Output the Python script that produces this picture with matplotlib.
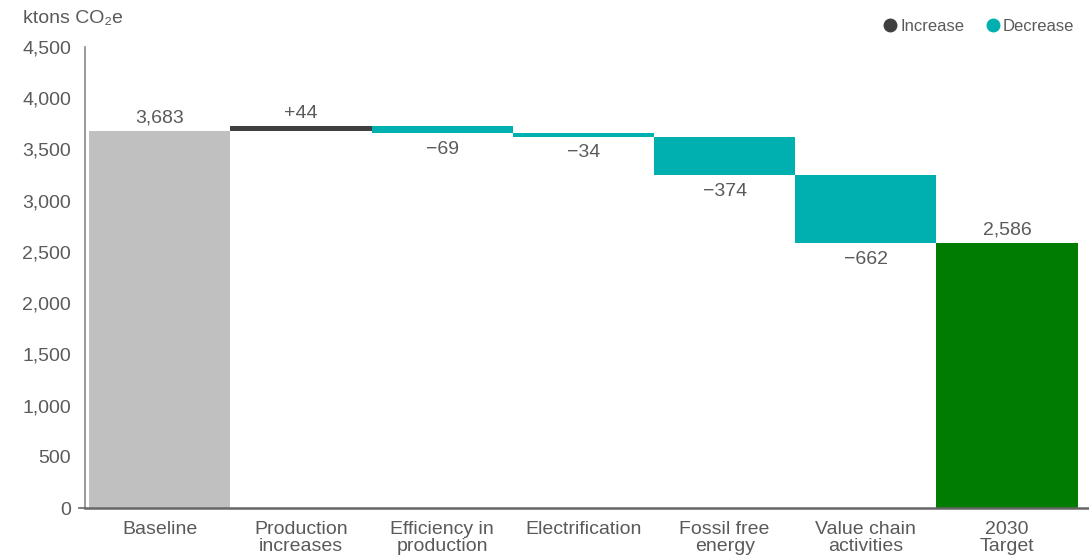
import numpy as np
import matplotlib.pyplot as plt
from matplotlib.lines import Line2D

# data
categories = ["Baseline", "Production\nincreases", "Efficiency in\nproduction",
              "Electrification", "Fossil free\nenergy", "Value chain\nactivities",
              "2030\nTarget"]
baseline = 3683
changes = [44, -69, -34, -374, -662]
target = 2586

# colours
c_base = "#c0c0c0"
c_inc = "#404040"
c_dec = "#00b0b0"
c_target = "#007d00"
c_text = "#5a5a5a"

plt.rcParams['font.family'] = ['Liberation Sans', 'DejaVu Sans']
fs = 14

fig = plt.figure(figsize=(10.89, 5.59), dpi=100)
ax = fig.add_axes([0.078, 0.0912, 0.922, 0.8248])

x = np.arange(len(categories))

# baseline bar
ax.bar(x[0], baseline, width=1.0, color=c_base, linewidth=0)
ax.text(x[0], baseline + 45, f"{baseline:,}", ha="center", va="bottom",
        fontsize=fs, color=c_text)

# floating change bars
level = baseline
for i, d in enumerate(changes):
    xi = x[i + 1]
    if d >= 0:
        ax.bar(xi, d, bottom=level, width=1.0, color=c_inc, linewidth=0)
        ax.text(xi, level + d + 45, f"+{d}", ha="center", va="bottom",
                fontsize=fs, color=c_text)
    else:
        ax.bar(xi, d, bottom=level, width=1.0, color=c_dec, linewidth=0)
        ax.text(xi, level + d - 75, f"\u2212{abs(d)}", ha="center", va="top",
                fontsize=fs, color=c_text)
    level += d

# target bar
ax.bar(x[-1], target, width=1.0, color=c_target, linewidth=0)
ax.text(x[-1], target + 45, f"{target:,}", ha="center", va="bottom",
        fontsize=fs, color=c_text)

ax.set_xlim(-0.53, 6.58)
ax.set_ylim(0, 4500)
ax.set_yticks(np.arange(0, 4501, 500))
ax.yaxis.set_major_formatter(plt.FuncFormatter(lambda v, p: f"{int(v):,}"))
ax.set_xticks(x)
ax.set_xticklabels(categories, fontsize=fs, color=c_text, linespacing=1.05)
ax.tick_params(axis="y", length=0, pad=10, labelsize=fs, labelcolor=c_text)
ax.tick_params(axis="x", length=0, pad=9)

for s in ["top", "right"]:
    ax.spines[s].set_visible(False)
ax.spines["left"].set_color("#888888")
ax.spines["left"].set_linewidth(1.2)
ax.spines["bottom"].set_color("#666666")
ax.spines["bottom"].set_linewidth(1.8)
ax.plot([-0.006, 0], [0, 0], transform=ax.get_yaxis_transform(),
        color="#666666", lw=1.2, clip_on=False)

# unit label
fig.text(0.021, 0.967, "ktons CO\u2082e", fontsize=fs, color=c_text,
         ha="left", va="center")

# legend
handles = [Line2D([], [], marker="o", ls="", color=c_inc, markersize=9),
           Line2D([], [], marker="o", ls="", color=c_dec, markersize=9)]
fig.legend(handles, ["Increase", "Decrease"], loc="center right",
           bbox_to_anchor=(1.0, 0.952), ncol=2, frameon=False,
           fontsize=12, labelcolor=c_text, handletextpad=0.1,
           columnspacing=1.2, handlelength=1.0)

fig.savefig("out.png", dpi=100)
